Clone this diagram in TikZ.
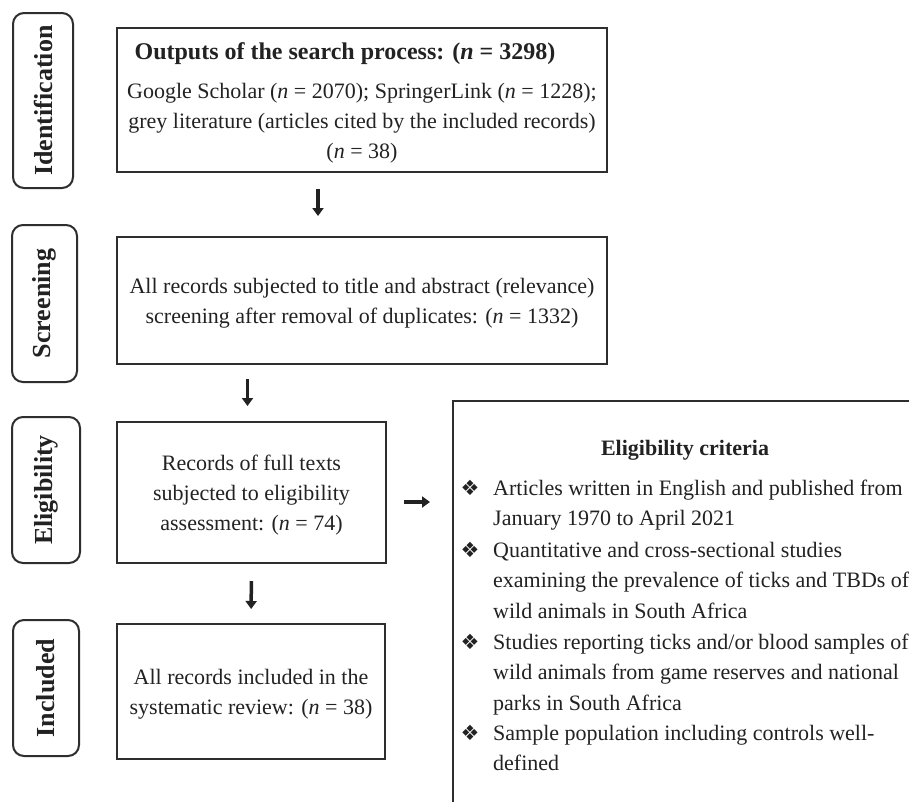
\documentclass[tikz,border=0pt]{standalone}
\usepackage{fontspec}
\setmainfont{Liberation Serif}
\newfontfamily\symfont{DejaVu Sans}
\usetikzlibrary{arrows.meta}
\definecolor{ink}{HTML}{222222}
\definecolor{edge}{HTML}{2E2E2E}
\tikzset{
  stage/.style={draw=edge, line width=2pt, rounded corners=11pt, rotate=90,
    inner sep=0pt, font=\fontsize{26}{30}\selectfont\bfseries, text=ink},
  mainbox/.style={draw=edge, line width=2pt, inner sep=0pt},
  boxtext/.style={align=center, inner sep=0pt, yshift=-3pt,
    font=\fontsize{22}{30}\selectfont, text=ink},
  arr/.style={draw=ink, line width=3.5pt, -{Triangle[width=11pt,length=8pt]}},
  crittext/.style={anchor=base west, inner sep=0pt,
    font=\fontsize{22}{30.5}\selectfont, text=ink},
  bul/.style={anchor=base, inner sep=0pt, font=\symfont\fontsize{21}{24}\selectfont, text=ink}
}
\begin{document}
\begin{tikzpicture}[x=1pt,y=-1pt]
\useasboundingbox (0,0) rectangle (909,801);
\fill[white] (0,0) rectangle (909,801);
\clip (0,0) rectangle (909,801);

% stage labels
\node[stage, minimum width=175pt, minimum height=60pt] (sid) at (43,100.5) {Identification};
\node[stage, minimum width=157pt, minimum height=65pt] (ssc) at (44.5,303.5) {Screening};
\node[stage, minimum width=146pt, minimum height=68pt] (sel) at (46,490) {Eligibility};
\node[stage, minimum width=136pt, minimum height=66pt] (sin) at (46,688) {Included};

% main boxes
\node[mainbox, minimum width=490pt, minimum height=144pt] (b1) at (362,100) {};
\node[mainbox, minimum width=490pt, minimum height=127pt] (b2) at (362,300.5) {};
\node[mainbox, minimum width=269pt, minimum height=141pt] (b3) at (251.5,492.5) {};
\node[mainbox, minimum width=268pt, minimum height=135pt] (b4) at (251,691.5) {};

\node[boxtext] (b1t) at (b1.center)
  {{\fontsize{24}{30}\selectfont\bfseries Outputs of the search process: (\textit{n} = 3298)}\hspace*{34pt}\\[9pt]
   Google Scholar (\textit{n} = 2070); SpringerLink (\textit{n} = 1228);\\
   grey literature (articles cited by the included records)\\
   (\textit{n} = 38)};
\node[boxtext] (b2t) at (b2.center)
  {All records subjected to title and abstract (relevance)\\
   screening after removal of duplicates: (\textit{n} = 1332)};
\node[boxtext] (b3t) at (b3.center)
  {Records of full texts\\ subjected to eligibility\\ assessment: (\textit{n} = 74)};
\node[boxtext] (b4t) at (b4.center)
  {All records included in the\\ systematic review: (\textit{n} = 38)};

% criteria box
\node[draw=edge, line width=2pt, inner sep=0pt, anchor=north west,
      minimum width=466pt, minimum height=440pt] (crit) at (452,400) {};
\node[anchor=base, inner sep=0pt, font=\fontsize{22}{26}\selectfont\bfseries, text=ink]
  (ctitle) at (685,455) {Eligibility criteria};

\node[bul] (u1) at (470,495) {❖};
\node[crittext] (t1) at (493,495) {\parbox[t]{440pt}{\raggedright Articles written in English and published from\\ January 1970 to April 2021}};
\node[bul] (u2) at (470,557) {❖};
\node[crittext] (t2) at (493,557) {\parbox[t]{440pt}{\raggedright Quantitative and cross-sectional studies\\ examining the prevalence of ticks and TBDs of\\ wild animals in South Africa}};
\node[bul] (u3) at (470,649) {❖};
\node[crittext] (t3) at (493,649) {\parbox[t]{440pt}{\raggedright Studies reporting ticks and/or blood samples of\\ wild animals from game reserves and national\\ parks in South Africa}};
\node[bul] (u4) at (470,740) {❖};
\node[crittext] (t4) at (493,740) {\parbox[t]{440pt}{\raggedright Sample population including controls well-\\ defined}};

% arrows
\draw[arr, shorten <=16pt, shorten >=20pt] ([xshift=-44pt]b1.south) -- ([xshift=-44pt]b2.north);
\draw[arr, shorten <=14pt, shorten >=15pt] ([xshift=-4pt]b3.north |- b2.south) -- ([xshift=-4pt]b3.north);
\draw[arr, shorten <=17pt, shorten >=14pt] (b3.south) -- (b4.north);
\path ([shift={(0,9.5)}]b3.east) coordinate (ra);
\draw[arr, shorten <=17pt, shorten >=22pt] (ra) -- (ra -| crit.west);
\end{tikzpicture}
\end{document}
